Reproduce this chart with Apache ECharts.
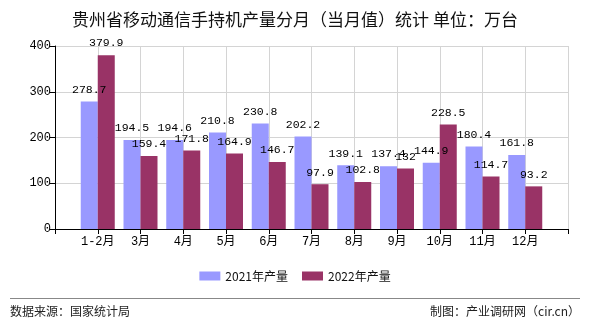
<!DOCTYPE html>
<html>
<head>
<meta charset="utf-8">
<script src="https://cdn.jsdelivr.net/npm/echarts@6/dist/echarts.min.js"></script>
<style>html,body{margin:0;padding:0;background:#fff;}#c{width:590px;height:330px;}</style>
</head>
<body>
<div id="c"></div>
<script>
const categories = ['1-2月','3月','4月','5月','6月','7月','8月','9月','10月','11月','12月'];
const v2021 = [278.7,194.5,194.6,210.8,230.8,202.2,139.1,137.4,144.9,180.4,161.8];
const v2022 = [379.9,159.4,171.8,164.9,146.7,97.9,102.8,132,228.5,114.7,93.2];
const yTicks = [0,100,200,300,400];

const numFont = '"Liberation Mono", "Noto Sans CJK SC", monospace';
const cjkFont = '"Noto Sans CJK SC", sans-serif';

const axisCats = [''].concat(categories, ['']);
const pad = arr => ['-'].concat(arr, ['-']);

const chart = echarts.init(document.getElementById('c'), null, {renderer:'canvas'});
chart.setOption({
  animation: false,
  backgroundColor: '#fff',
  title: {
    text: '贵州省移动通信手持机产量分月（当月值）统计 单位：万台',
    left: 'center', top: 6,
    textStyle: {fontSize: 17, fontWeight: 'normal', color: '#111', fontFamily: cjkFont}
  },
  legend: {
    bottom: 43, left: 'center',
    itemWidth: 21, itemHeight: 9, itemGap: 14,
    icon: 'rect',
    textStyle: {fontSize: 12, color: '#111', fontFamily: cjkFont},
    data: ['2021年产量','2022年产量']
  },
  grid: {left: 55, right: 22, top: 46, bottom: 101, containLabel: false},
  xAxis: {
    type: 'category',
    data: axisCats,
    boundaryGap: false,
    axisLine: {lineStyle: {color: '#000'}},
    axisTick: {show: true, length: 5, lineStyle: {color: '#000'}},
    axisLabel: {interval: 0, color: '#000', fontSize: 12, margin: 7, fontFamily: numFont},
    splitLine: {show: true, lineStyle: {color: '#d4d4d4'}}
  },
  yAxis: {
    type: 'value',
    min: yTicks[0], max: yTicks[yTicks.length-1], interval: 100,
    axisLine: {show: true, lineStyle: {color: '#000'}},
    axisTick: {show: true, length: 5, lineStyle: {color: '#000'}},
    axisLabel: {color: '#000', fontSize: 12, margin: 4, fontFamily: numFont},
    splitLine: {show: true, lineStyle: {color: '#d4d4d4'}}
  },
  series: [
    {
      name: '2021年产量', type: 'bar', data: pad(v2021),
      barWidth: 17, barGap: '0%',
      itemStyle: {color: '#9999FF'},
      label: {show: true, position: 'top', distance: 6, color: '#000', fontSize: 11.5, fontFamily: numFont}
    },
    {
      name: '2022年产量', type: 'bar', data: pad(v2022),
      barWidth: 17, barGap: '0%',
      itemStyle: {color: '#993366'},
      label: {show: true, position: 'top', distance: 6, color: '#000', fontSize: 11.5, fontFamily: numFont}
    }
  ],
  graphic: [
    {type: 'line', shape: {x1: 10, y1: 298.5, x2: 580, y2: 298.5}, style: {stroke: '#888', lineWidth: 1}},
    {type: 'text', left: 10, top: 305, style: {text: '数据来源：国家统计局', fontSize: 12, fill: '#222', fontFamily: cjkFont}},
    {type: 'text', right: 10, top: 305, style: {text: '制图：产业调研网（cir.cn）', fontSize: 12, fill: '#222', fontFamily: cjkFont}}
  ]
});
</script>
</body>
</html>
